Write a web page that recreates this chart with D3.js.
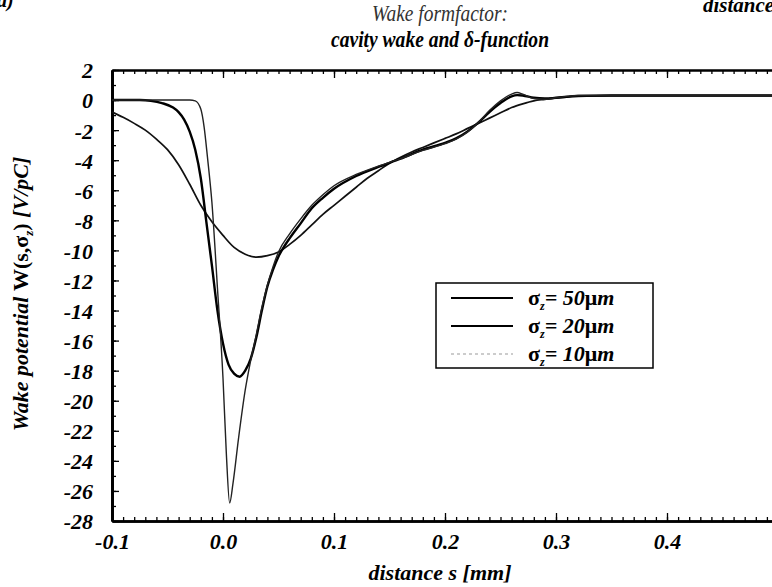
<!DOCTYPE html>
<meta charset="utf-8">
<script src="https://d3js.org/d3.v7.min.js"></script>
<style>
  body { margin: 0; background: #fff; }
  .bi { font-weight: bold; font-style: italic; }
</style>
<div id="chart"></div>
<script>

// values: distance s [mm] and wake potential [V/pC]
var s50 = [-0.1, -0.09, -0.08, -0.07, -0.06, -0.05, -0.04, -0.03, -0.02, -0.01, 0.0, 0.01, 0.02, 0.03, 0.04, 0.05, 0.06, 0.07, 0.08, 0.09, 0.10, 0.11, 0.12, 0.13, 0.14, 0.15, 0.16, 0.17, 0.18, 0.19, 0.20, 0.21, 0.22, 0.23, 0.24, 0.25, 0.26, 0.27, 0.28, 0.29, 0.30, 0.32, 0.35, 0.40, 0.50]
var w50 = [-0.8, -1.15, -1.55, -2.0, -2.6, -3.3, -4.3, -5.6, -7.0, -8.1, -9.0, -9.8, -10.25, -10.45, -10.35, -10.1, -9.6, -9.0, -8.3, -7.6, -7.0, -6.4, -5.8, -5.2, -4.7, -4.2, -3.8, -3.45, -3.15, -2.85, -2.55, -2.25, -1.9, -1.55, -1.2, -0.85, -0.5, -0.25, -0.05, 0.05, 0.15, 0.25, 0.3, 0.3, 0.3]

var s20 = [-0.1, -0.075, -0.065, -0.055, -0.045, -0.04, -0.035, -0.03, -0.025, -0.02, -0.015, -0.01, -0.005, 0.0, 0.005, 0.01, 0.015, 0.02, 0.025, 0.03, 0.035, 0.04, 0.045, 0.05, 0.055, 0.06, 0.07, 0.08, 0.09, 0.10, 0.12, 0.14, 0.16, 0.18, 0.20, 0.21, 0.22, 0.23, 0.24, 0.25, 0.26, 0.265, 0.27, 0.28, 0.29, 0.30, 0.32, 0.35, 0.50]
var w20 = [0, 0, -0.05, -0.2, -0.5, -0.8, -1.3, -2.1, -3.3, -5.2, -8.1, -11.0, -14.0, -16.2, -17.6, -18.2, -18.4, -18.0, -17.2, -15.8, -14.0, -12.4, -11.3, -10.4, -9.75, -9.2, -8.2, -7.2, -6.5, -5.9, -5.05, -4.45, -3.9, -3.3, -2.85, -2.55, -2.1, -1.5, -0.8, -0.2, 0.25, 0.33, 0.3, 0.15, 0.1, 0.15, 0.28, 0.3, 0.3]

var s10 = [-0.1, -0.03, -0.025, -0.02, -0.017, -0.014, -0.01, -0.005, 0.0, 0.003, 0.006, 0.009, 0.014, 0.02, 0.025, 0.03, 0.035, 0.04, 0.045, 0.05, 0.06, 0.07, 0.08, 0.09, 0.10, 0.12, 0.14, 0.16, 0.18, 0.20, 0.21, 0.22, 0.23, 0.24, 0.25, 0.26, 0.265, 0.27, 0.28, 0.29, 0.30, 0.32, 0.35, 0.50]
var w10 = [0, 0, -0.05, -0.6, -1.8, -3.8, -6.8, -12.5, -18.5, -23.5, -26.8, -25.5, -22.5, -19.3, -17.3, -15.6, -13.8, -12.3, -11.1, -10.1, -8.9, -7.9, -7.0, -6.3, -5.7, -4.95, -4.4, -3.9, -3.35, -2.9, -2.6, -2.15, -1.5, -0.7, -0.05, 0.4, 0.5, 0.4, 0.1, 0.05, 0.15, 0.3, 0.3, 0.3]

var xMajor = [-0.1, 0.0, 0.1, 0.2, 0.3, 0.4]
var yMajor = [2, 0, -2, -4, -6, -8, -10, -12, -14, -16, -18, -20, -22, -24, -26, -28]
var legendLabels = ["50", "20", "10"]

var serif = "'Liberation Serif', 'Times New Roman', Times, serif"

var W = 772, H = 587
var margin = {top: 70, left: 112, bottom: 66, right: -6}
var width = W - margin.left - margin.right,
    height = H - margin.top - margin.bottom

var svg = d3.select("#chart").append("svg")
    .attr("width", W)
    .attr("height", H)

// corner fragments, clipped by the page edge as in the scan
svg.append("text").attr("class", "bi").attr("x", -3).attr("y", 7)
    .style("font-size", "20px").text("a)")
svg.append("text").attr("class", "bi").attr("x", 703).attr("y", 12)
    .style("font-size", "21px").text("distance")

// title
svg.append("text")
    .attr("x", 440).attr("y", 21)
    .attr("text-anchor", "middle")
    .style("font-size", "23px").style("font-style", "italic")
    .style("fill", "#333")
    .attr("textLength", 136).attr("lengthAdjust", "spacingAndGlyphs")
    .text("Wake formfactor:")
svg.append("text")
    .attr("class", "bi")
    .attr("x", 440).attr("y", 47)
    .attr("text-anchor", "middle")
    .style("font-size", "24px")
    .attr("textLength", 218).attr("lengthAdjust", "spacingAndGlyphs")
    .text("cavity wake and δ-function")

var g = svg.append("g")
    .attr("transform", "translate(" + margin.left + "," + margin.top + ")")

var x = d3.scaleLinear().domain([-0.1, 0.5]).range([0, width])
var y = d3.scaleLinear().domain([-28, 2]).range([height, 0])

var xMinor = d3.range(-100, 501, 10).map(function(d) { return d / 1000 })
var yMinor = d3.range(-28, 3, 1)

function styleAxis(sel, w) {
  sel.select(".domain").attr("stroke-width", w)
  sel.selectAll(".tick line").attr("stroke-width", 1.3)
  sel.selectAll("text").attr("class", "bi").style("font-size", "22px").attr("fill", "#000")
}

// bottom
g.append("g").attr("transform", "translate(0," + height + ")")
    .call(d3.axisBottom(x).tickValues(xMinor).tickSize(-4).tickSizeOuter(0).tickFormat(""))
    .call(styleAxis, 2.5)
g.append("g").attr("transform", "translate(0," + height + ")")
    .call(d3.axisBottom(x).tickValues(xMajor).tickSize(-8).tickSizeOuter(0)
      .tickFormat(function(d) { return d.toFixed(1) }))
    .call(styleAxis, 2.5)
    .selectAll(".tick text").attr("dy", null).attr("y", 28)
// top
g.append("g")
    .call(d3.axisTop(x).tickValues(xMinor).tickSize(-4).tickSizeOuter(0).tickFormat(""))
    .call(styleAxis, 2)
g.append("g")
    .call(d3.axisTop(x).tickValues(xMajor).tickSize(-8).tickSizeOuter(0).tickFormat(""))
    .call(styleAxis, 2)
// left
g.append("g")
    .call(d3.axisLeft(y).tickValues(yMinor).tickSize(-4).tickSizeOuter(0).tickFormat(""))
    .call(styleAxis, 2.8)
g.append("g")
    .call(d3.axisLeft(y).tickValues(yMajor).tickSize(-7).tickSizeOuter(0).tickPadding(19)
      .tickFormat(function(d) { return String(d) }))
    .call(styleAxis, 2.8)
    .selectAll(".tick text").attr("dy", "0.36em")

// axis titles
svg.append("text").attr("class", "bi")
    .attr("x", 440).attr("y", 580)
    .attr("text-anchor", "middle")
    .style("font-size", "22px")
    .text("distance s [mm]")

var yl = svg.append("text")
    .attr("transform", "translate(28,294) rotate(-90)")
    .attr("text-anchor", "middle")
    .style("font-size", "22px")
yl.append("tspan").attr("class", "bi").text("Wake potential ")
yl.append("tspan").style("font-weight", "bold").text("W(s,σ")
yl.append("tspan").attr("class", "bi").style("font-size", "13px").attr("dy", 5).text("z")
yl.append("tspan").style("font-weight", "bold").attr("dy", -5).text(")")
yl.append("tspan").attr("class", "bi").text(" [V/pC]")

// curves
var line = d3.line()
    .curve(d3.curveMonotoneX)
    .x(function(d) { return x(d[0]) })
    .y(function(d) { return y(d[1]) })

var series = [
  {s: s50, w: w50, width: 1.7, color: "#111"},
  {s: s20, w: w20, width: 2.4, color: "#000"},
  {s: s10, w: w10, width: 1.4, color: "#222"}
]

g.selectAll(".curve")
  .data(series)
  .enter()
  .append("path")
    .attr("class", "curve")
    .attr("fill", "none")
    .attr("stroke", function(d) { return d.color })
    .attr("stroke-width", function(d) { return d.width })
    .attr("d", function(d) { return line(d.s.map(function(v, i) { return [v, d.w[i]] })) })

// legend
var lg = svg.append("g").attr("transform", "translate(436,283)")
lg.append("rect").attr("width", 217).attr("height", 85)
    .attr("fill", "#fff").attr("stroke", "#000").attr("stroke-width", 1.5)

var rows = lg.selectAll(".row").data(legendLabels).enter().append("g")
    .attr("transform", function(d, i) { return "translate(0," + (15 + i * 28) + ")" })
rows.append("line")
    .attr("x1", 15).attr("x2", 77)
    .attr("stroke", function(d, i) { return i == 2 ? "#999" : "#000" })
    .attr("stroke-width", function(d, i) { return i == 2 ? 1.2 : 1.8 })
    .attr("stroke-dasharray", function(d, i) { return i == 2 ? "3,3" : null })
var lt = rows.append("text").attr("x", 92).attr("y", 7).style("font-size", "22px")
lt.append("tspan").style("font-weight", "bold").text("σ")
lt.append("tspan").attr("class", "bi").style("font-size", "12px").attr("dy", 5).text("z")
lt.append("tspan").attr("class", "bi").attr("dy", -5).text(function(d) { return "= " + d })
lt.append("tspan").style("font-weight", "bold").text("μ")
lt.append("tspan").attr("class", "bi").text("m")

// serif face everywhere (axis groups set sans-serif on themselves)
svg.selectAll("g").attr("font-family", null)
svg.selectAll("text").style("font-family", serif)

</script>
